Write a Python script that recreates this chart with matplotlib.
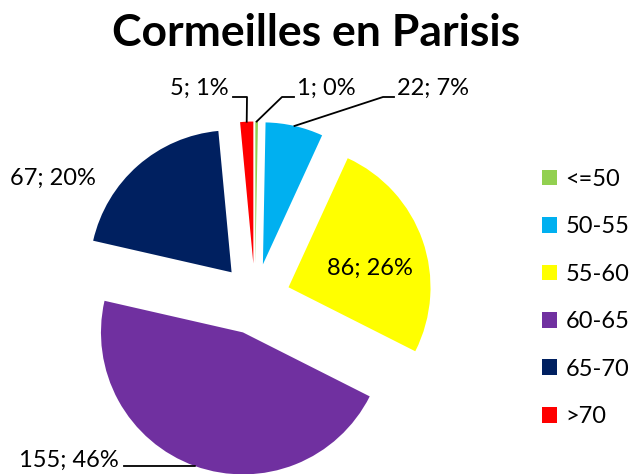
import numpy as np
import matplotlib.pyplot as plt

categories = ["<=50", "50-55", "55-60", "60-65", "65-70", ">70"]
counts = [1, 22, 86, 155, 67, 5]
colors = ["#92D050", "#00B0F0", "#FFFF00", "#7030A0", "#002060", "#FF0000"]

plt.rcParams['font.family'] = ['Lato', 'DejaVu Sans']

W, H = 638, 474
CX, CY, R = 255, 299, 142   # pie centre and radius, in pixels


def px(x, y):
    # pixel position (from top-left) -> data coords
    return ((x - CX) / R, (CY - y) / R)


fig = plt.figure(figsize=(W / 100, H / 100), dpi=100)
ax = fig.add_axes([0, 0, 1, 1])
wedges, _ = ax.pie(counts, colors=colors, startangle=90, counterclock=False,
                   explode=[0.25] * len(counts), radius=1)
ax.set_xlim(-CX / R, (W - CX) / R)
ax.set_ylim(-(H - CY) / R, CY / R)
ax.set_aspect('auto')
ax.axis('off')

total = sum(counts)
labels = ["%d; %d%%" % (c, round(100.0 * c / total)) for c in counts]


def edge_point(w):
    t = np.deg2rad((w.theta1 + w.theta2) / 2)
    return (w.center[0] + w.r * np.cos(t), w.center[1] + w.r * np.sin(t))


# leader lines: wedge edge -> elbow -> end, then text
leaders = {
    0: ([(282, 97), (294, 97)], (297, 88), 'left'),
    1: ([(383, 97), (394, 97)], (397, 88), 'left'),
    5: ([(247, 97), (233, 97)], (229, 88), 'right'),
    3: ([(124, 466)], (119, 460), 'right'),
}
for i, (pts, tpos, ha) in leaders.items():
    x0, y0 = edge_point(wedges[i])
    xs = [x0] + [px(*p)[0] for p in pts]
    ys = [y0] + [px(*p)[1] for p in pts]
    ax.plot(xs, ys, color='black', lw=1.3)
    ax.text(*px(*tpos), labels[i], ha=ha, va='center', fontsize=17)

ax.text(*px(370, 268), labels[2], ha='center', va='center', fontsize=17)
ax.text(*px(53, 178), labels[4], ha='center', va='center', fontsize=17)

fig.text(316 / W, 1 - 33 / H, "Cormeilles en Parisis", ha='center', va='center',
         fontsize=32, fontweight='bold')

ax.legend(wedges, categories, loc='center left', bbox_to_anchor=(542 / W, 1 - 298 / H),
          bbox_transform=fig.transFigure, frameon=False, fontsize=17,
          handlelength=0.65, handleheight=0.65, handletextpad=0.35,
          labelspacing=1.12, borderaxespad=0, borderpad=0)

fig.savefig("out.png", dpi=100)
